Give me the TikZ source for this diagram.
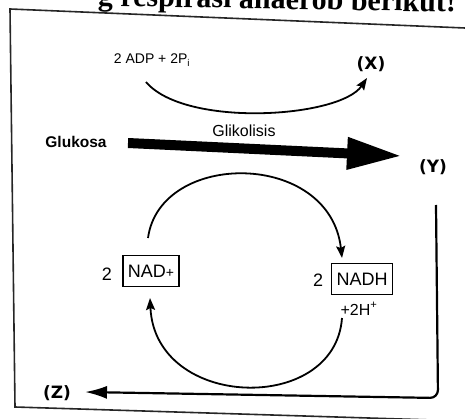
\documentclass[tikz,border=0pt]{standalone}
\usepackage{fontspec}
\usepackage{graphicx}
\setmainfont{Liberation Sans}
\newfontfamily\titlefont{Liberation Serif}
\newfontfamily\lblfont{DejaVu Sans}
\usetikzlibrary{arrows.meta}
\tikzset{
  frame/.style={line width=1.6pt, black!85},
  txt/.style={inner sep=0pt, anchor=base},
  letter/.style={txt, font=\lblfont\bfseries\fontsize{17}{19}\selectfont},
  chem/.style={txt, font=\fontsize{18}{20}\selectfont},
  chembox/.style={draw, line width=1.4pt, inner xsep=5pt, inner ysep=9pt,
    text height=13pt, text depth=0pt, font=\fontsize{18}{20}\selectfont},
  curvearrow/.style={line width=1.8pt, -{Stealth[length=12pt,width=9pt,inset=2pt]}},
  bigarrow/.style={line width=10pt, -{Triangle[length=55pt,width=30pt]}},
  zarrow/.style={line width=2.2pt, rounded corners=8pt, -{Latex[length=22pt,width=13pt]}}
}
\begin{document}
\begin{tikzpicture}[x=1pt,y=-1pt]
\useasboundingbox (0,0) rectangle (465,419);
\begin{scope}
  \clip (0,0) rectangle (465,419);
  \node[anchor=base east, inner sep=0pt, rotate=-1,
        font=\titlefont\bfseries\fontsize{30}{30}\selectfont] (title) at (456,12)
        {g respirasi anaerob berikut!};
  \draw[frame] (465,28) -- (10,9) -- (15,407) -- (465,421);
\end{scope}

% texts
\node[txt, font=\fontsize{14}{16}\selectfont] (adp) at (152,64) {2 ADP + 2P\textsubscript{i}};
\node[letter] (x) at (371,70) {(X)};
\node[txt, font=\fontsize{16}{18}\selectfont] (glik) at (244,137) {Glikolisis};
\node[txt, font=\bfseries\fontsize{15.5}{18}\selectfont] (glu) at (76,148) {Glukosa};
\node[letter] (y) at (433,173) {(Y)};
\node[letter] (z) at (57,398) {(Z)};

\node[chembox] (nad) at (151,271) {NAD{\fontsize{14}{14}\selectfont+}};
\node[chem] (nad2) at (107,280) {2};
\node[chembox] (nadh) at (362,279) {NADH};
\node[chem] (nadh2) at (318,287) {2};
\node[txt, font=\fontsize{16}{18}\selectfont] (h) at (359,315) {+2H\textsuperscript{+}};

% connector end points
\coordinate (a1) at (146,82);
\coordinate (a2) at (367,78);
\coordinate (g1) at (128,143);
\coordinate (g2) at (402,156);
\coordinate (c1) at (148,238);
\coordinate (c2) at (342,258);
\coordinate (c3) at (342,318);
\coordinate (c4) at (150,298);
\coordinate (yz1) at (436,205);
\coordinate (yz2) at (438,398);
\coordinate (zz) at (85,392);

% connectors
\draw[curvearrow] (a1) .. controls (185,128) and (340,118) .. (a2);
\draw[bigarrow] (g1) -- (g2);
\draw[curvearrow] (c1) .. controls (160,150) and (330,150) .. (c2);
\draw[curvearrow] (c3) .. controls (335,415) and (155,410) .. (c4);
\draw[zarrow] (yz1) -- (yz2) -- (zz);
\end{tikzpicture}
\end{document}
